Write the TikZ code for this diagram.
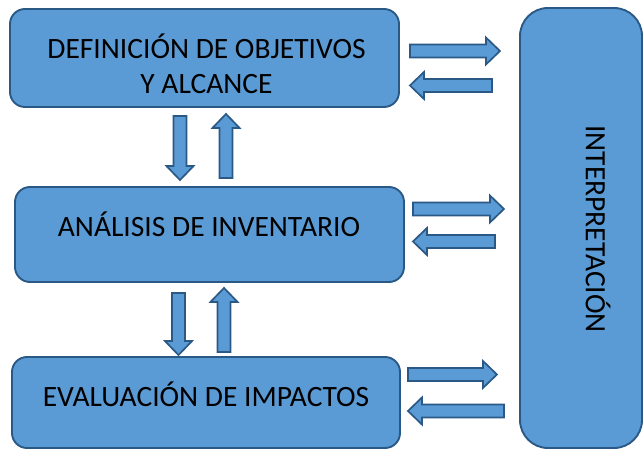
\documentclass[tikz,border=0pt]{standalone}
\usepackage{fontspec}
\setmainfont{Carlito}
\usetikzlibrary{calc}
\definecolor{boxblue}{HTML}{5B9BD5}
\definecolor{edgeblue}{HTML}{2B5985}
\tikzset{
  stage/.style={draw=edgeblue, fill=boxblue, line width=1.9pt, rounded corners=15pt, inner sep=0pt},
  lbl/.style={font=\fontsize{29.5}{35}\selectfont, align=center, inner sep=0pt},
  fat/.style={draw=edgeblue, fill=boxblue, line width=1.7pt, line join=miter,
    to path={let \p1=($(\tikztotarget)-(\tikztostart)$), \n1={atan2(\y1,\x1)}, \n2={veclen(\x1,\y1)} in
      ($(\tikztostart)+(\n1-90:6.5)$) -- ++(\n1:\n2-14) -- ++(\n1-90:7) -- (\tikztotarget)
      -- ++(\n1+180-43.96:19.45) -- ++(\n1-90:7) -- ++(\n1+180:\n2-14) -- cycle}}
}
\begin{document}
\begin{tikzpicture}[x=1pt, y=1pt]
    \useasboundingbox (0, 0) rectangle (643, 450);

    \node[stage, minimum width=389, minimum height=98] (def) at (204.5, 392) {};
    \node[stage, minimum width=389, minimum height=95] (inv) at (209.5, 215.5) {};
    \node[stage, minimum width=388, minimum height=91] (eva) at (206, 47.5) {};
    \node[stage, rounded corners=28pt, minimum width=122, minimum height=440] (interp) at (581, 222) {};

    \node[lbl] (deftxt) at (206.5, 386.5) {DEFINICIÓN DE OBJETIVOS\\Y ALCANCE};
    \node[lbl] (invtxt) at (209, 226) {ANÁLISIS DE INVENTARIO};
    \node[lbl] (evatxt) at (206, 56) {EVALUACIÓN DE IMPACTOS};
    \node[lbl, rotate=-90] (interptxt) at (598, 221) {INTERPRETACIÓN};

    \draw[fat] ([shift={(-24.5,-8)}]def.south) to ([shift={(-29.5,6)}]inv.north);
    \draw[fat] ([shift={(16.5,8)}]inv.north) to ([shift={(21.5,-6)}]def.south);
    \draw[fat] ([shift={(-31,-10)}]inv.south) to ([shift={(-27.5,1)}]eva.north);
    \draw[fat] ([shift={(18,4)}]eva.north) to ([shift={(14.5,-5)}]inv.south);

    \draw[fat] ([shift={(10,7)}]def.east) to ([shift={(100,7)}]def.east);
    \draw[fat] ([shift={(92,-27.5)}]def.east) to ([shift={(10,-27.5)}]def.east);
    \draw[fat] ([shift={(8,25.5)}]inv.east) to ([shift={(99,25.5)}]inv.east);
    \draw[fat] ([shift={(90,-7)}]inv.east) to ([shift={(8,-7)}]inv.east);
    \draw[fat] ([shift={(7,28)}]eva.east) to ([shift={(96,28)}]eva.east);
    \draw[fat] ([shift={(103,-8.5)}]eva.east) to ([shift={(7,-8.5)}]eva.east);
\end{tikzpicture}
\end{document}
